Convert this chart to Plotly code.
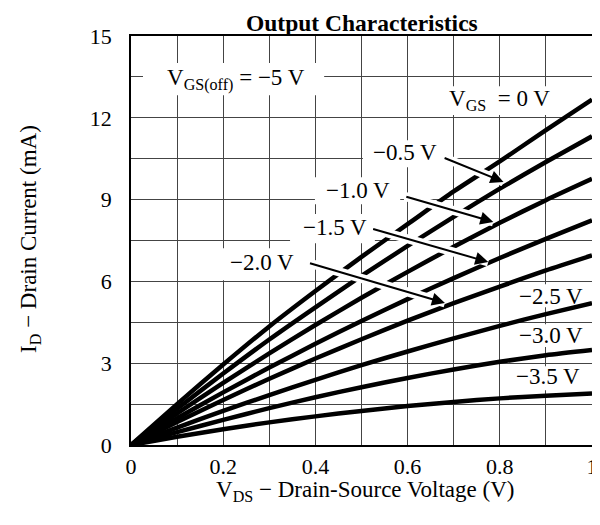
import plotly.graph_objects as go

# ---- data ----
vds = [0, 0.1, 0.2, 0.3, 0.4, 0.5, 0.6, 0.7, 0.8, 0.9, 1.0]
vgs_labels = ["0 V", "-0.5 V", "-1.0 V", "-1.5 V", "-2.0 V", "-2.5 V", "-3.0 V", "-3.5 V"]
id_0v = [0, 1.50, 2.95, 4.35, 5.65, 6.90, 8.10, 9.30, 10.40, 11.55, 12.67]
id_m05 = [0, 1.33, 2.62, 3.87, 5.05, 6.20, 7.30, 8.37, 9.40, 10.38, 11.32]
id_m10 = [0, 1.16, 2.28, 3.36, 4.40, 5.40, 6.35, 7.27, 8.15, 8.98, 9.76]
id_m15 = [0, 0.98, 1.93, 2.84, 3.71, 4.55, 5.35, 6.12, 6.86, 7.56, 8.24]
id_m20 = [0, 0.84, 1.65, 2.43, 3.17, 3.88, 4.56, 5.20, 5.81, 6.40, 6.95]
id_m25 = [0, 0.64, 1.25, 1.83, 2.39, 2.93, 3.43, 3.91, 4.37, 4.80, 5.20]
id_m30 = [0, 0.47, 0.92, 1.35, 1.75, 2.12, 2.46, 2.77, 3.05, 3.29, 3.48]
id_m35 = [0, 0.30, 0.58, 0.83, 1.05, 1.25, 1.43, 1.58, 1.71, 1.81, 1.89]
curves = [id_0v, id_m05, id_m10, id_m15, id_m20, id_m25, id_m30, id_m35]

FONT = "Liberation Serif"
LBL = 23
fig = go.Figure()
for name, ys in zip(vgs_labels, curves):
    fig.add_trace(go.Scatter(x=vds, y=ys, mode="lines", name=name,
                             line=dict(color="black", width=4.5, shape="spline", smoothing=0.6),
                             showlegend=False, hoverinfo="skip"))

shapes = []
annotations = []

# white boxes behind labels (break the grid but not the curves)
label_boxes = [
    (0.026, 0.419, 12.83, 14.01),
    (0.670, 0.931, 12.10, 13.16),
    (0.503, 0.685, 10.19, 11.18),
    (0.399, 0.584, 8.83, 9.82),
    (0.345, 0.529, 7.40, 8.47),
    (0.189, 0.377, 6.04, 7.22),
    (0.826, 0.995, 5.05, 5.90),
    (0.826, 0.995, 3.59, 4.43),
    (0.817, 0.995, 2.01, 2.89),
]
for x0, x1, y0, y1 in label_boxes:
    shapes.append(dict(type="rect", xref="x", yref="y", x0=x0, x1=x1, y0=y0, y1=y1,
                       fillcolor="white", line=dict(width=0), layer="between"))

# arrow labels: (text, text_x, text_y, tail_x, tail_y, tip_x, tip_y)
arrows = [
    ("\u22120.5 V", 0.594, 10.71, 0.677, 10.55, 0.808, 9.65),
    ("\u22121.0 V", 0.493, 9.33, 0.594, 9.12, 0.786, 8.18),
    ("\u22121.5 V", 0.442, 7.97, 0.522, 7.94, 0.775, 6.71),
    ("\u22122.0 V", 0.285, 6.69, 0.385, 6.68, 0.681, 5.21),
]
for txt, tx, ty, ax0, ay0, x1, y1 in arrows:
    shapes.append(dict(type="line", xref="x", yref="y", x0=ax0, y0=ay0, x1=x1, y1=y1,
                       line=dict(color="white", width=9), layer="above"))
    annotations.append(dict(x=x1, y=y1, ax=ax0, ay=ay0, xref="x", yref="y", axref="x", ayref="y",
                            text="", showarrow=True, arrowhead=2, arrowsize=1.3, arrowwidth=2,
                            arrowcolor="black", standoff=0))
    annotations.append(dict(x=tx, y=ty, xref="x", yref="y", text=txt, showarrow=False,
                            font=dict(family=FONT, size=LBL, color="black")))

plain_labels = [
    ("V<sub>GS(off)</sub> = \u22125 V", 0.228, 13.42),
    ("V<sub>GS</sub>\u00a0\u00a0= 0 V", 0.80, 12.65),
    ("\u22122.5 V", 0.911, 5.45),
    ("\u22123.0 V", 0.911, 4.0),
    ("\u22123.5 V", 0.905, 2.5),
]
for txt, tx, ty in plain_labels:
    annotations.append(dict(x=tx, y=ty, xref="x", yref="y", text=txt, showarrow=False,
                            font=dict(family=FONT, size=LBL, color="black")))

# titles as paper-positioned text
annotations.append(dict(x=0.502, y=1.0318, xref="paper", yref="paper", xanchor="center", yanchor="middle",
                        text="<b>Output Characteristics</b>", showarrow=False, borderpad=0,
                        font=dict(family=FONT, size=23.5, color="black")))
annotations.append(dict(x=0.508, y=-0.112, xref="paper", yref="paper", xanchor="center", yanchor="middle",
                        text="V<sub>DS</sub> \u2212 Drain-Source Voltage (V)", showarrow=False, borderpad=0,
                        font=dict(family=FONT, size=23, color="black")))
annotations.append(dict(x=-0.219, y=0.504, xref="paper", yref="paper", xanchor="center", yanchor="middle",
                        text="I<sub>D</sub> \u2212 Drain Current (mA)", showarrow=False, textangle=-90,
                        font=dict(family=FONT, size=23, color="black")))

grid = "#444444"
# page body has an 8px default margin, so the figure is sized/offset to compensate
fig.update_layout(
    width=592, height=517,
    margin=dict(l=123, r=8, t=28, b=80, autoexpand=False),
    paper_bgcolor="white", plot_bgcolor="white",
    font=dict(family=FONT, size=22, color="black"),
    shapes=shapes,
    annotations=annotations,
    xaxis=dict(range=[0, 1], dtick=0.2, tick0=0, showgrid=True, gridcolor=grid, gridwidth=1.2,
               minor=dict(dtick=0.1, showgrid=True, gridcolor=grid, gridwidth=1.2),
               showline=True, linecolor="black", linewidth=1.5, mirror=True, zeroline=False,
               ticks="outside", ticklen=1, tickcolor="rgba(0,0,0,0)", automargin=False,
               tickfont=dict(family=FONT, size=22, color="black")),
    yaxis=dict(range=[0, 15], dtick=3, tick0=0, showgrid=True, gridcolor=grid, gridwidth=1.2,
               minor=dict(dtick=1.5, showgrid=True, gridcolor=grid, gridwidth=1.2),
               showline=True, linecolor="black", linewidth=1.5, mirror=True, zeroline=False,
               ticks="outside", ticklen=13, tickcolor="rgba(0,0,0,0)", automargin=False,
               tickfont=dict(family=FONT, size=22, color="black")),
)

fig.write_html("out.html")
